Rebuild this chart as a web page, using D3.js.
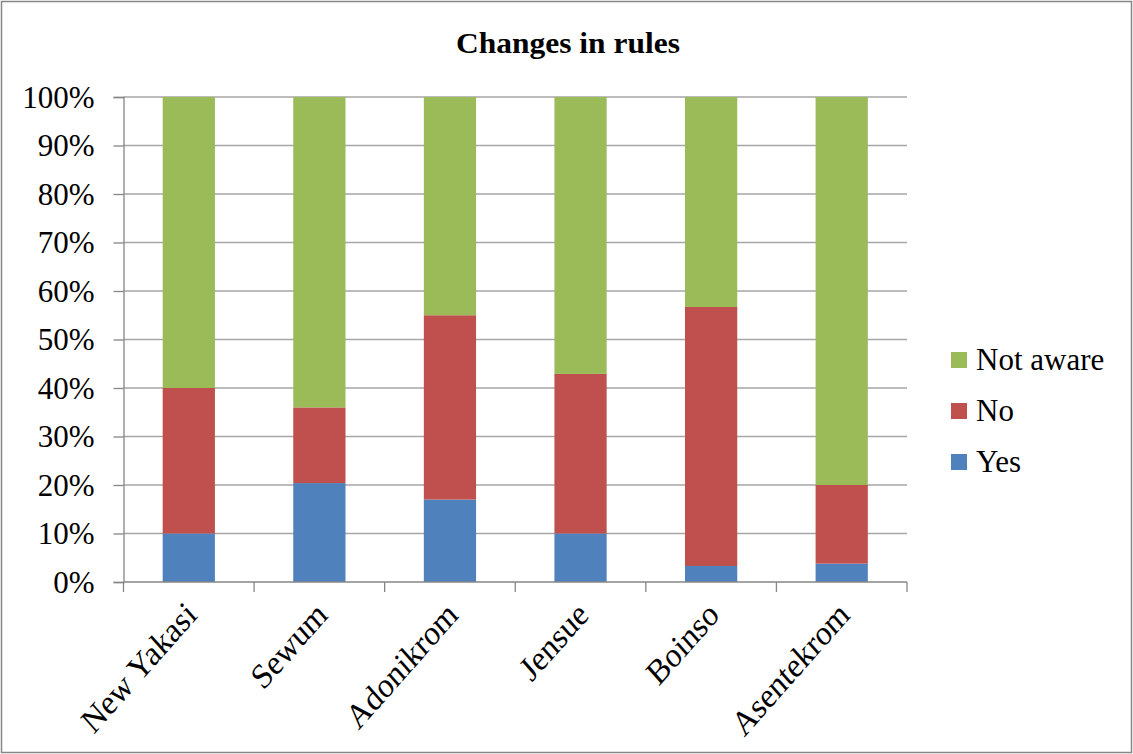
<!DOCTYPE html>
<html>
<head>
<meta charset="utf-8">
<script src="https://cdn.jsdelivr.net/npm/d3@7"></script>
<style>
  html, body { margin: 0; padding: 0; background: #fff; }
  svg { display: block; }
  text { font-family: "Liberation Serif", "Times New Roman", serif; fill: #000; }
</style>
</head>
<body>
<svg id="chart" width="1133" height="754"></svg>
<script>
// Survey responses per community (percent of respondents)
const categories = ["New Yakasi", "Sewum", "Adonikrom", "Jensue", "Boinso", "Asentekrom"];
const yesValues = [10, 20.4, 17, 10, 3.3, 3.8];
const noValues = [30, 15.6, 38, 32.9, 53.4, 16.2];
const notAwareValues = [60, 64, 45, 57.1, 43.3, 80];
const seriesNames = ["Yes", "No", "Not aware"];
const seriesColors = ["#4F81BD", "#C0504D", "#9BBB59"];
const yTicks = [0, 10, 20, 30, 40, 50, 60, 70, 80, 90, 100];
const titleText = "Changes in rules";

const rows = categories.map((c, i) => ({
  category: c,
  "Yes": yesValues[i],
  "No": noValues[i],
  "Not aware": notAwareValues[i]
}));

const svg = d3.select("#chart");
const W = 1133, H = 754;
const plot = { left: 123.5, right: 907, top: 97, bottom: 582 };
const labelSize = 31;

// Outer frame
svg.append("rect")
  .attr("x", 1.5).attr("y", 1.5)
  .attr("width", W - 3).attr("height", H - 3)
  .attr("fill", "#fff").attr("stroke", "#868686").attr("stroke-width", 1.5);

const x = d3.scaleBand()
  .domain(categories)
  .range([plot.left, plot.right])
  .paddingInner(0.6)
  .paddingOuter(0.3);

const y = d3.scaleLinear().domain([0, 100]).range([plot.bottom, plot.top]);

// Horizontal gridlines
svg.append("g")
  .selectAll("line")
  .data(yTicks.filter(t => t > 0))
  .join("line")
  .attr("x1", plot.left).attr("x2", plot.right)
  .attr("y1", d => y(d)).attr("y2", d => y(d))
  .attr("stroke", "#a6a6a6").attr("stroke-width", 1.3);

// Stacked bars
const stack = d3.stack().keys(seriesNames);
const layers = stack(rows);
svg.append("g")
  .selectAll("g")
  .data(layers)
  .join("g")
  .attr("fill", (d, i) => seriesColors[i])
  .selectAll("rect")
  .data(d => d)
  .join("rect")
  .attr("x", d => x(d.data.category))
  .attr("width", x.bandwidth())
  .attr("y", d => y(d[1]))
  .attr("height", d => y(d[0]) - y(d[1]));

// Y axis
const yAxis = d3.axisLeft(y)
  .tickValues(yTicks)
  .tickSize(10)
  .tickPadding(19)
  .tickFormat(d => d + "%");
const yg = svg.append("g")
  .attr("transform", `translate(${plot.left},0)`)
  .call(yAxis);
yg.select(".domain").attr("stroke", "#868686").attr("stroke-width", 1.3);
yg.selectAll(".tick line").attr("stroke", "#868686").attr("stroke-width", 1.3);
yg.selectAll(".tick text")
  .attr("font-size", labelSize)
  .attr("font-family", "Liberation Serif, Times New Roman, serif")
  .attr("dy", "0.33em")
  .attr("fill", "#000");

// X axis with category boundary ticks
const xg = svg.append("g").attr("transform", `translate(0,${plot.bottom})`);
xg.append("line")
  .attr("x1", plot.left).attr("x2", plot.right)
  .attr("stroke", "#868686").attr("stroke-width", 1.3);
const step = x.step();
const boundaries = d3.range(categories.length + 1).map(i => plot.left + i * step);
xg.selectAll("line.tick")
  .data(boundaries)
  .join("line")
  .attr("class", "tick")
  .attr("x1", d => d).attr("x2", d => d)
  .attr("y1", 0).attr("y2", 10)
  .attr("stroke", "#868686").attr("stroke-width", 1.3);

// Slanted category labels (slightly stretched vertically)
xg.selectAll("text")
  .data(categories)
  .join("text")
  .attr("transform", d => `translate(${x(d) + x.bandwidth() / 2 + 2},${26}) scale(1,1.13) rotate(-45)`)
  .attr("text-anchor", "end")
  .attr("dy", "0.35em")
  .attr("font-size", labelSize)
  .text(d => d);

// Title
svg.append("text")
  .attr("x", 568).attr("y", 53)
  .attr("text-anchor", "middle")
  .attr("font-size", 29)
  .attr("font-weight", "bold")
  .attr("textLength", 224)
  .attr("lengthAdjust", "spacingAndGlyphs")
  .text(titleText);

// Legend (top to bottom: Not aware, No, Yes)
const legendOrder = seriesNames.map((n, i) => ({ name: n, color: seriesColors[i] })).reverse();
const lg = svg.append("g").attr("transform", "translate(951,360)");
const li = lg.selectAll("g")
  .data(legendOrder)
  .join("g")
  .attr("transform", (d, i) => `translate(0,${i * 51})`);
li.append("rect")
  .attr("x", 0).attr("y", -8)
  .attr("width", 16).attr("height", 16)
  .attr("fill", d => d.color);
li.append("text")
  .attr("x", 25).attr("y", 0)
  .attr("dy", "0.33em")
  .attr("font-size", labelSize)
  .text(d => d.name);
</script>
</body>
</html>
